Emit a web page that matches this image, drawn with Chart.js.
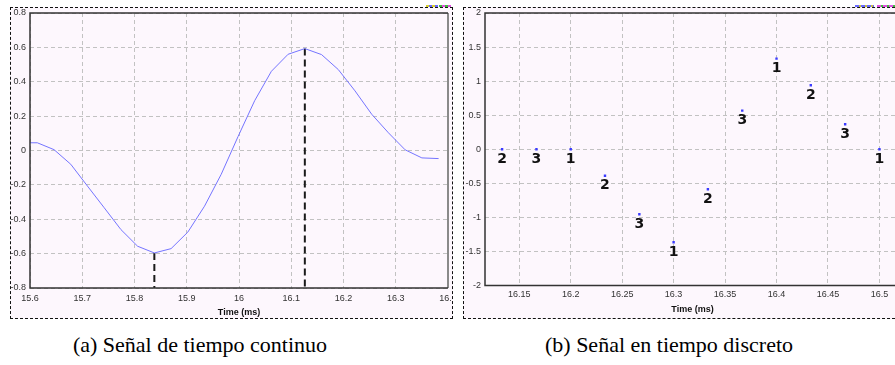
<!DOCTYPE html>
<html>
<head>
<meta charset="utf-8">
<script src="https://cdn.jsdelivr.net/npm/chart.js@4.4.1/dist/chart.umd.min.js"></script>
<style>
  html, body { margin: 0; padding: 0; background: #fff; overflow: hidden; }
  body { width: 895px; height: 365px; position: relative; }
  .panel { position: absolute; top: 7px; height: 310px; border: 1px dashed #111; background: #fdf7fd; overflow: hidden; }
  #panelA { left: 10px; width: 441px; }
  #panelB { left: 463px; width: 440px; }
  .panel canvas { display: block; }
  .caption { position: absolute; top: 334px; font-family: "Liberation Serif", serif; font-size: 22px; line-height: 22px;
             white-space: nowrap; transform: translateX(-50%); color: #000; }
  .swatch { position: absolute; top: 5px; height: 2px; }
</style>
</head>
<body>

<div class="panel" id="panelA"><canvas id="chartA" width="441" height="310"></canvas></div>
<div class="panel" id="panelB"><canvas id="chartB" width="440" height="310"></canvas></div>

<div class="swatch" style="left:426px;width:12px;background:repeating-linear-gradient(90deg,#d8d030 0 3px,#6a6aff 3px 6px)"></div>
<div class="swatch" style="left:439px;width:12px;background:repeating-linear-gradient(90deg,#40c040 0 3px,#e050e0 3px 6px)"></div>
<div class="swatch" style="left:855px;width:19px;background:repeating-linear-gradient(90deg,#6a6aff 0 4px,#c8c040 4px 6px)"></div>
<div class="swatch" style="left:877px;width:18px;background:repeating-linear-gradient(90deg,#e050e0 0 4px,#40c040 4px 6px)"></div>

<div class="caption" style="left:200px">(a) Señal de tiempo continuo</div>
<div class="caption" style="left:669px">(b) Señal en tiempo discreto</div>

<script>
// continuous trace, time in ms
const contTime = [15.6, 15.614, 15.646, 15.678, 15.710, 15.742, 15.774, 15.806, 15.838, 15.870, 15.902, 15.934, 15.966,
                  15.998, 16.030, 16.062, 16.094, 16.126, 16.158, 16.190, 16.222, 16.254, 16.286, 16.318, 16.350, 16.382];
const contValue = [0.045, 0.045, 0.005, -0.08, -0.207, -0.333, -0.46, -0.557, -0.596, -0.571, -0.475, -0.324, -0.138,
                   0.08, 0.29, 0.461, 0.56, 0.593, 0.558, 0.471, 0.347, 0.211, 0.103, 0.004, -0.043, -0.047];

// sampled signal
const discTime = [16.1333, 16.1667, 16.2, 16.2333, 16.2667, 16.3, 16.3333, 16.3667, 16.4, 16.4333, 16.4667, 16.5];
const discValue = [0, 0, 0, -0.39, -0.955, -1.365, -0.587, 0.567, 1.33, 0.94, 0.367, 0];
const discTags = ['2', '3', '1', '2', '3', '1', '2', '3', '1', '2', '3', '1'];

const tickFont = { family: 'Liberation Sans', size: 9 };
const titleFont = { family: 'Liberation Sans', size: 9, weight: 'bold' };
const fmt = v => String(+v.toFixed(3));

function gridOpts() {
    return { color: '#c2c2c2', lineWidth: 1, drawTicks: false };
}
function borderOpts() {
    return { display: false, dash: [4, 3] };
}

// plot frame: dark top/left/bottom, grey right edge
const framePlugin = {
    id: 'frame',
    afterDraw(chart) {
        const { ctx, chartArea: a } = chart;
        ctx.save();
        ctx.strokeStyle = '#8a8a8a';
        ctx.lineWidth = 2;
        ctx.beginPath();
        ctx.moveTo(a.right, a.top);
        ctx.lineTo(a.right, a.bottom);
        ctx.stroke();
        ctx.strokeStyle = '#333';
        ctx.lineWidth = 1.5;
        ctx.beginPath();
        ctx.moveTo(a.right, a.top);
        ctx.lineTo(a.left, a.top);
        ctx.lineTo(a.left, a.bottom);
        ctx.lineTo(a.right, a.bottom);
        ctx.stroke();
        ctx.restore();
    }
};

// digit under each sample
const tagPlugin = {
    id: 'sampleTags',
    afterDatasetsDraw(chart) {
        const ctx = chart.ctx;
        const meta = chart.getDatasetMeta(0);
        ctx.save();
        ctx.font = 'bold 14px "DejaVu Sans"';
        ctx.fillStyle = '#111';
        ctx.textAlign = 'center';
        ctx.textBaseline = 'middle';
        meta.data.forEach((pt, i) => ctx.fillText(discTags[i], pt.x, pt.y + 10));
        ctx.restore();
    }
};

// extrema of the trace get a dashed drop line to the axis
let iMin = 0, iMax = 0;
contValue.forEach((v, i) => {
    if (v < contValue[iMin]) iMin = i;
    if (v > contValue[iMax]) iMax = i;
});
const yFloorA = -0.8;
const dropLine = i => ({
    data: [{ x: contTime[i], y: contValue[i] }, { x: contTime[i], y: yFloorA }],
    borderColor: '#1a1a1a',
    borderWidth: 2,
    borderDash: [7, 4],
    pointRadius: 0,
    fill: false
});

new Chart(document.getElementById('chartA'), {
    type: 'line',
    data: {
        datasets: [
            {
                data: contTime.map((t, i) => ({ x: t, y: contValue[i] })),
                borderColor: '#7474ff',
                borderWidth: 1,
                pointRadius: 0,
                tension: 0,
                fill: false
            },
            dropLine(iMin),
            dropLine(iMax)
        ]
    },
    options: {
        responsive: false,
        animation: false,
        layout: { padding: { top: 5, right: 4, left: 0, bottom: 0 } },
        plugins: { legend: { display: false }, tooltip: { enabled: false } },
        scales: {
            x: {
                type: 'linear', min: 15.6, max: 16.4,
                ticks: { stepSize: 0.1, includeBounds: false, font: tickFont, color: '#333', padding: 5,
                         maxRotation: 0, autoSkip: false, callback: fmt },
                grid: gridOpts(), border: borderOpts(),
                title: { display: true, text: 'Time (ms)', font: titleFont, color: '#111', padding: { top: 0, bottom: 0 } },
                afterFit: s => { s.height = 30; s.paddingLeft = 0; s.paddingRight = 0; }
            },
            y: {
                type: 'linear', min: yFloorA, max: 0.8,
                ticks: { stepSize: 0.2, font: tickFont, color: '#333', padding: 4, callback: fmt },
                grid: gridOpts(), border: borderOpts(),
                afterFit: s => { s.width = 19; s.paddingTop = 0; s.paddingBottom = 0; }
            }
        }
    },
    plugins: [framePlugin]
});

new Chart(document.getElementById('chartB'), {
    type: 'scatter',
    data: {
        datasets: [{
            data: discTime.map((t, i) => ({ x: t, y: discValue[i] })),
            pointStyle: 'rect',
            pointRadius: 1.7,
            backgroundColor: '#3a3aff',
            borderWidth: 0
        }]
    },
    options: {
        responsive: false,
        animation: false,
        layout: { padding: { top: 5, right: 2, left: 0, bottom: 0 } },
        plugins: { legend: { display: false }, tooltip: { enabled: false } },
        scales: {
            x: {
                type: 'linear', min: 16.1167, max: 16.52,
                ticks: { stepSize: 0.05, includeBounds: false, font: tickFont, color: '#333', padding: 4,
                         maxRotation: 0, autoSkip: false, callback: fmt },
                grid: gridOpts(), border: borderOpts(),
                title: { display: true, text: 'Time (ms)', font: titleFont, color: '#111', padding: { top: 0, bottom: 3 } },
                afterFit: s => { s.height = 32.5; s.paddingLeft = 0; s.paddingRight = 0; }
            },
            y: {
                type: 'linear', min: -2, max: 2,
                ticks: { stepSize: 0.5, font: tickFont, color: '#333', padding: 4, callback: fmt },
                grid: gridOpts(), border: borderOpts(),
                afterFit: s => { s.width = 21; s.paddingTop = 0; s.paddingBottom = 0; }
            }
        }
    },
    plugins: [framePlugin, tagPlugin]
});
</script>
</body>
</html>
